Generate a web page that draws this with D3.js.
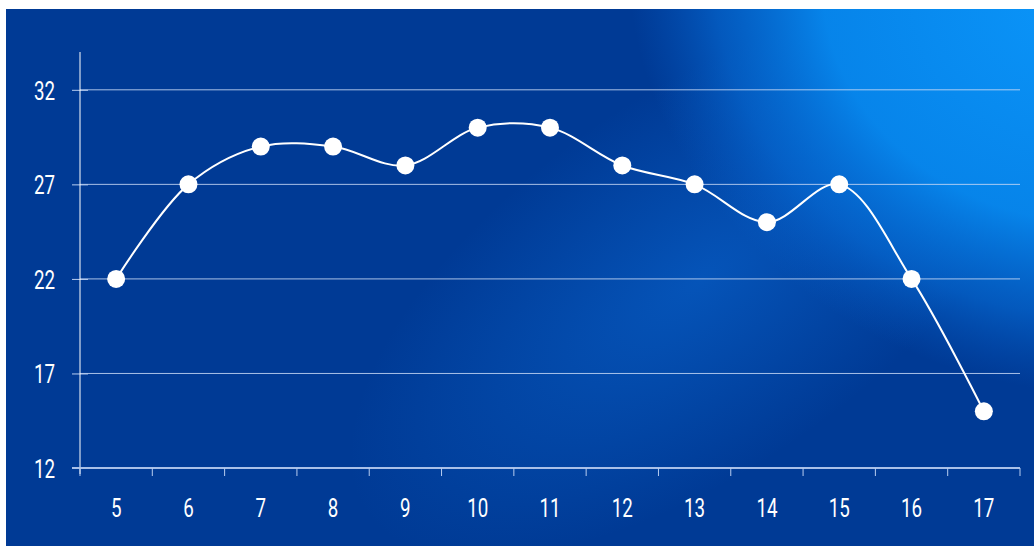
<!DOCTYPE html>
<html>
<head>
<meta charset="utf-8">
<script src="https://cdn.jsdelivr.net/npm/d3@7"></script>
<style>
  html, body { margin: 0; padding: 0; background: #ffffff; }
  svg { display: block; }
  .tick text { font-family: Roboto, "DejaVu Sans", sans-serif; font-weight: 400; }
</style>
</head>
<body>
<div id="chart"></div>
<script>
// chart data
var categories = [5, 6, 7, 8, 9, 10, 11, 12, 13, 14, 15, 16, 17];
var values = [22, 27, 29, 29, 28, 30, 30, 28, 27, 25, 27, 22, 15];
var yTicks = [12, 17, 22, 27, 32];

var width = 1034, height = 546;
var margin = {top: 52, right: 14, bottom: 78, left: 80};

var svg = d3.select("#chart").append("svg")
    .attr("width", width)
    .attr("height", height);

// background glow
var defs = svg.append("defs");
var g1 = defs.append("radialGradient").attr("id", "glow1")
    .attr("gradientUnits", "userSpaceOnUse")
    .attr("cx", 1060).attr("cy", 10).attr("r", 440)
    .attr("gradientTransform", "translate(1060,10) rotate(22) scale(1.0,0.85) translate(-1060,-10)");
g1.append("stop").attr("offset", "0%").attr("stop-color", "#0a94f8").attr("stop-opacity", 1);
g1.append("stop").attr("offset", "55%").attr("stop-color", "#0788ee").attr("stop-opacity", 0.95);
g1.append("stop").attr("offset", "80%").attr("stop-color", "#0672de").attr("stop-opacity", 0.55);
g1.append("stop").attr("offset", "100%").attr("stop-color", "#0560cc").attr("stop-opacity", 0);

var g2 = defs.append("radialGradient").attr("id", "glow2")
    .attr("gradientUnits", "userSpaceOnUse")
    .attr("cx", 700).attr("cy", 280).attr("r", 340)
    .attr("gradientTransform", "translate(700,280) rotate(-35) scale(1.2,0.55) translate(-700,-280)");
g2.append("stop").attr("offset", "0%").attr("stop-color", "#0a6edc").attr("stop-opacity", 0.5);
g2.append("stop").attr("offset", "100%").attr("stop-color", "#0a6edc").attr("stop-opacity", 0);

svg.append("rect").attr("x", 6).attr("y", 9).attr("width", width - 6).attr("height", height - 9)
    .attr("fill", "#003a95");
svg.append("rect").attr("x", 6).attr("y", 9).attr("width", width - 6).attr("height", height - 9)
    .attr("fill", "url(#glow2)");
svg.append("rect").attr("x", 6).attr("y", 9).attr("width", width - 6).attr("height", height - 9)
    .attr("fill", "url(#glow1)");

var x = d3.scaleBand()
    .domain(categories)
    .range([margin.left, width - margin.right]);

var y = d3.scaleLinear()
    .domain([12, 34])
    .range([height - margin.bottom, margin.top]);

// gridlines
svg.append("g")
    .selectAll("line")
    .data(yTicks.slice(1))
    .join("line")
    .attr("x1", margin.left)
    .attr("x2", width - margin.right)
    .attr("y1", function (d) { return y(d); })
    .attr("y2", function (d) { return y(d); })
    .attr("stroke", "#c8d8f4")
    .attr("stroke-opacity", 0.85)
    .attr("stroke-width", 1);

// y axis
var yAxis = svg.append("g")
    .attr("transform", "translate(" + margin.left + ",0)")
    .call(d3.axisLeft(y).tickValues(yTicks).tickSize(8).tickPadding(0));
yAxis.select(".domain").remove();
yAxis.append("line")
    .attr("x1", 0).attr("x2", 0)
    .attr("y1", margin.top).attr("y2", height - margin.bottom + 6)
    .attr("stroke", "#ffffff").attr("stroke-width", 1);
yAxis.selectAll(".tick line")
    .attr("x1", 8)
    .attr("stroke", "#b8cdf0");
yAxis.selectAll(".tick text")
    .attr("x", -25 / 0.75)
    .attr("dy", "0.38em")
    .attr("transform", "scale(0.75,1)")
    .attr("fill", "#ffffff")
    .attr("font-size", 25);

// x axis
var xAxis = svg.append("g")
    .attr("transform", "translate(0," + (height - margin.bottom) + ")")
    .call(d3.axisBottom(x).tickSize(0).tickPadding(0));
xAxis.select(".domain")
    .attr("d", "M" + (margin.left - 8) + ",0H" + (width - margin.right))
    .attr("stroke", "#a9c0e8")
    .attr("stroke-width", 2);
xAxis.selectAll(".tick text")
    .attr("y", 0)
    .attr("dy", "1.95em")
    .attr("transform", "scale(0.75,1)")
    .attr("fill", "#ffffff")
    .attr("font-size", 25);
// boundary ticks between categories
var bounds = categories.map(function (c) { return x(c); }).concat([x(categories[categories.length - 1]) + x.bandwidth()]);
xAxis.append("g")
    .selectAll("line")
    .data(bounds)
    .join("line")
    .attr("x1", function (d) { return d; })
    .attr("x2", function (d) { return d; })
    .attr("y1", 0)
    .attr("y2", 8)
    .attr("stroke", "#b8cdf0")
    .attr("stroke-width", 1);

// series
var pts = categories.map(function (c, i) {
    return {x: x(c) + x.bandwidth() / 2, y: y(values[i])};
});

var line = d3.line()
    .x(function (d) { return d.x; })
    .y(function (d) { return d.y; })
    .curve(d3.curveCatmullRom.alpha(0.5));

svg.append("path")
    .datum(pts)
    .attr("d", line)
    .attr("fill", "none")
    .attr("stroke", "#ffffff")
    .attr("stroke-width", 2);

svg.append("g")
    .selectAll("circle")
    .data(pts)
    .join("circle")
    .attr("cx", function (d) { return d.x; })
    .attr("cy", function (d) { return d.y; })
    .attr("r", 9)
    .attr("fill", "#ffffff");
</script>
</body>
</html>
